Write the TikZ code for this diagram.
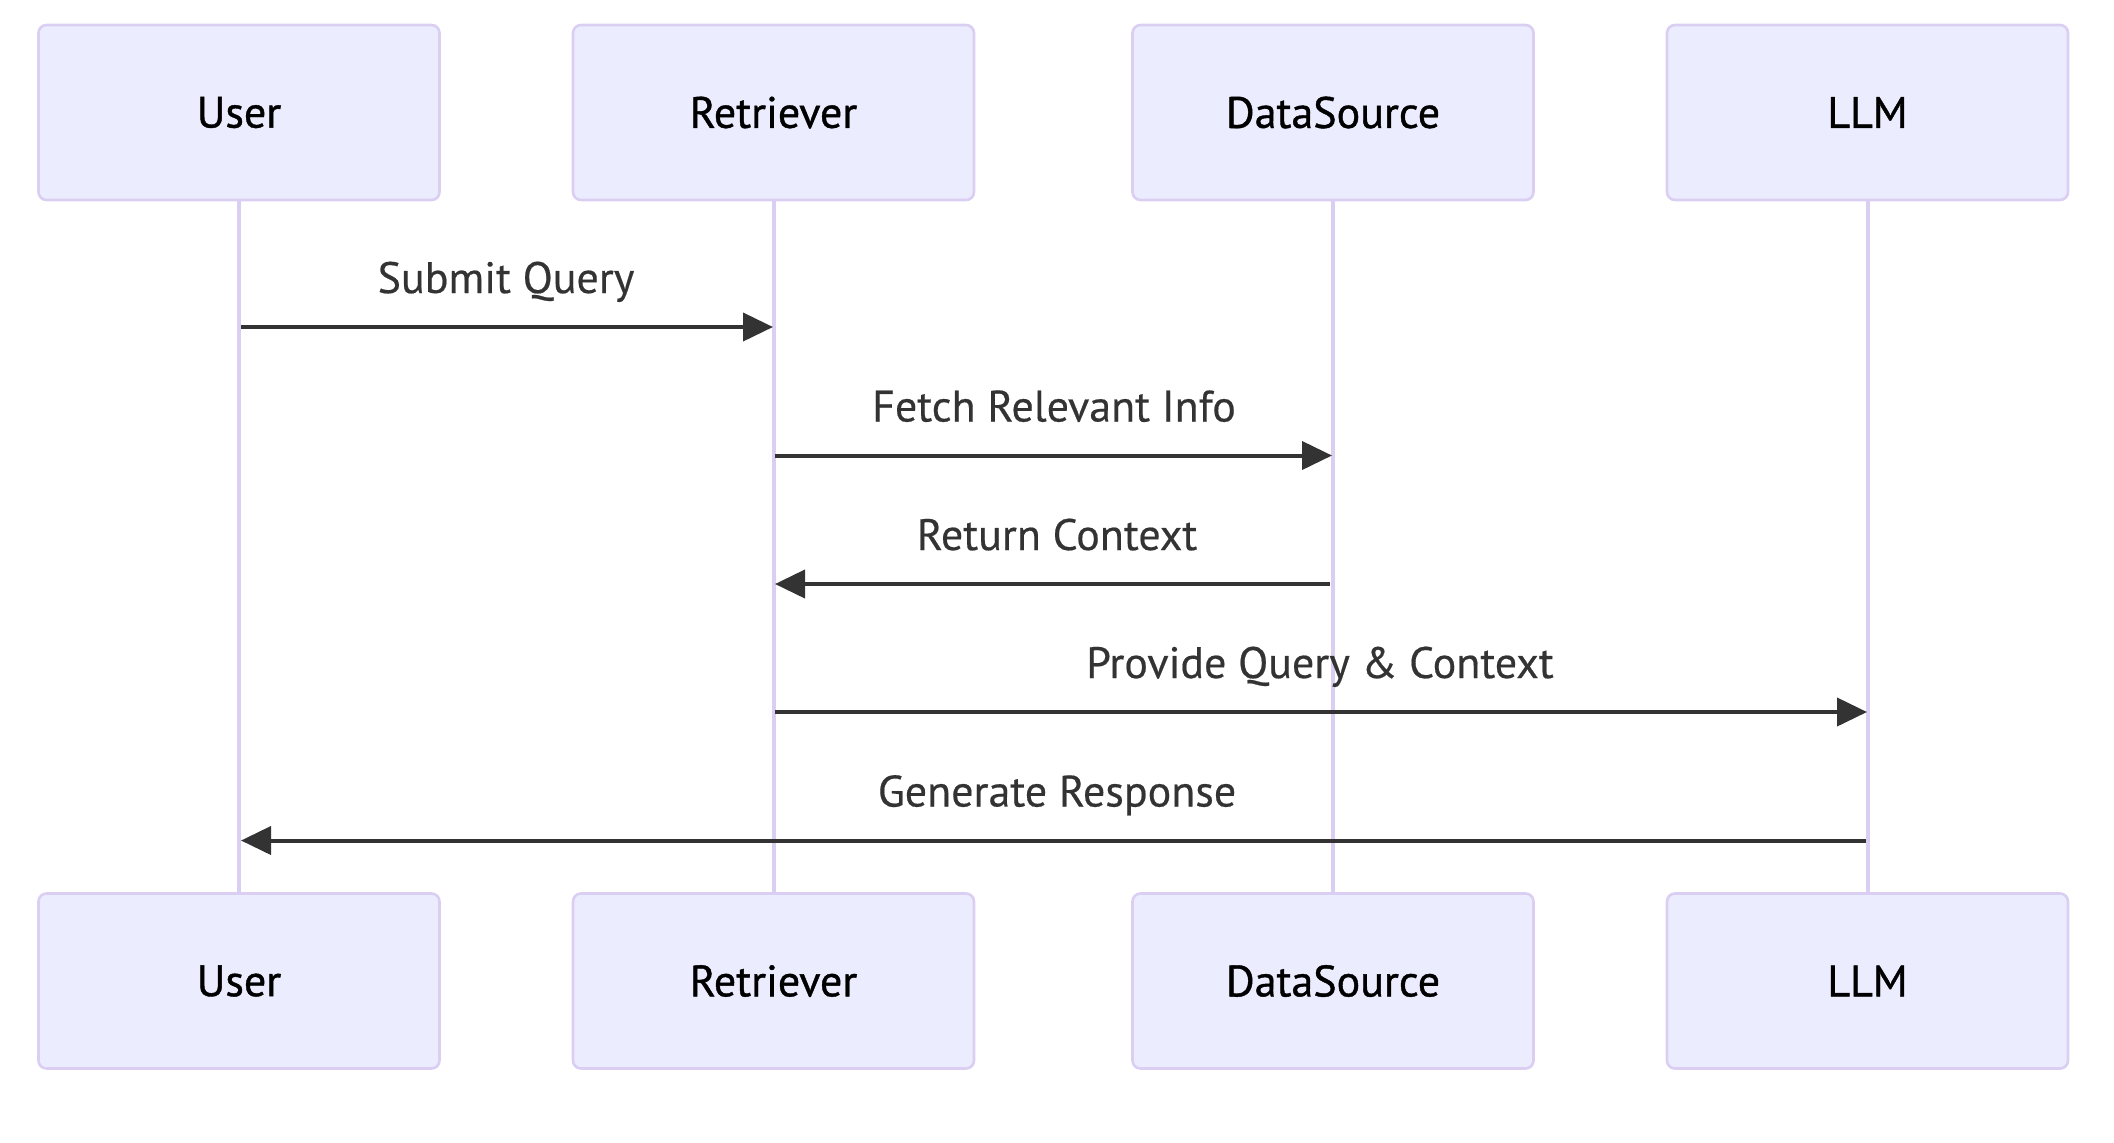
\documentclass[tikz,border=0pt]{standalone}
\usepackage{fontspec}
\setmainfont{PT Sans}
\newfontfamily\actorfont[FakeBold=0.9]{PT Sans}
\newfontfamily\msgfont[FakeBold=0.4]{PT Sans}
\usetikzlibrary{arrows.meta}
\definecolor{actfill}{HTML}{ECECFF}
\definecolor{actline}{RGB}{218,206,243}
\definecolor{msgcol}{HTML}{333333}
\begin{document}
\begin{tikzpicture}[x=0.5pt,y=-0.5pt,
  actorbox/.style={draw=actline, fill=actfill, line width=1.3pt, rounded corners=4pt,
    minimum width=200.5pt, minimum height=87.5pt, inner sep=0pt, text=black,
    font=\actorfont\fontsize{22}{26}\selectfont},
  lifeline/.style={draw=actline, line width=2pt},
  msgline/.style={draw=msgcol, line width=2pt, -{Triangle[length=15pt,width=14pt]}},
  msglabel/.style={text=msgcol, inner sep=0pt, anchor=base, font=\msgfont\fontsize{22}{26}\selectfont}
]
\useasboundingbox (0,0) rectangle (2114,1142);
% actors
\node[actorbox] (uT) at (239,112.5) {User};
\node[actorbox] (rT) at (773.5,112.5) {Retriever};
\node[actorbox] (dT) at (1333,112.5) {DataSource};
\node[actorbox] (lT) at (1867.5,112.5) {LLM};
\node[actorbox] (uB) at (239,981) {User};
\node[actorbox] (rB) at (773.5,981) {Retriever};
\node[actorbox] (dB) at (1333,981) {DataSource};
\node[actorbox] (lB) at (1867.5,981) {LLM};
% lifelines
\draw[lifeline] (uT.south) -- (uB.north);
\draw[lifeline] (rT.south) -- (rB.north);
\draw[lifeline] (dT.south) -- (dB.north);
\draw[lifeline] (lT.south) -- (lB.north);
% message end points
\coordinate (m1a) at (241,327);   \coordinate (m1b) at (773,327);
\coordinate (m2a) at (775,455.5); \coordinate (m2b) at (1332,455.5);
\coordinate (m3a) at (1330,584);  \coordinate (m3b) at (775,584);
\coordinate (m4a) at (775,712);   \coordinate (m4b) at (1867,712);
\coordinate (m5a) at (1866,840.5);\coordinate (m5b) at (241,840.5);
\draw[msgline] (m1a) -- (m1b);
\draw[msgline] (m2a) -- (m2b);
\draw[msgline] (m3a) -- (m3b);
\draw[msgline] (m4a) -- (m4b);
\draw[msgline] (m5a) -- (m5b);
% labels
\node[msglabel] (t1) at (506,293) {Submit Query};
\node[msglabel] (t2) at (1054,421.5) {Fetch Relevant Info};
\node[msglabel] (t3) at (1057,550) {Return Context};
\node[msglabel] (t4) at (1320,678) {Provide Query \& Context};
\node[msglabel] (t5) at (1057,806.5) {Generate Response};
\end{tikzpicture}
\end{document}
